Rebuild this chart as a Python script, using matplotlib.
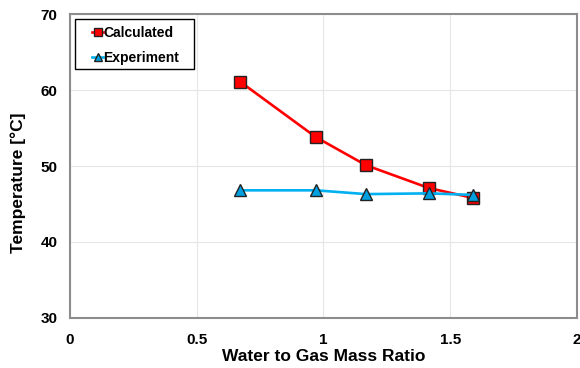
import matplotlib
matplotlib.use("Agg")
import matplotlib.pyplot as plt
from matplotlib.patches import Rectangle

plt.rcParams['font.family'] = ['Liberation Sans', 'DejaVu Sans']
plt.rcParams['font.weight'] = 'bold'

ratio_calc = [0.671, 0.970, 1.168, 1.416, 1.590]
temp_calc = [61.1, 53.8, 50.1, 47.1, 45.8]
ratio_exp = [0.671, 0.970, 1.168, 1.416, 1.590]
temp_exp = [46.8, 46.8, 46.3, 46.4, 46.2]

x_ticks = [0, 0.5, 1, 1.5, 2]
x_ticklabels = ['0', '0.5', '1', '1.5', '2']
y_ticks = [30, 40, 50, 60, 70]

fig = plt.figure(figsize=(5.8, 3.68), dpi=100)
ax = fig.add_axes([0.1207, 0.1359, 0.874, 0.826])

ax.plot(ratio_calc, temp_calc, color='#ff0000', lw=1.9, marker='s', ms=8,
        markerfacecolor='#ff0000', markeredgecolor='#222222', markeredgewidth=1,
        label='Calculated', zorder=3)
ax.plot(ratio_exp, temp_exp, color='#00b0f0', lw=1.9, marker='^', ms=8,
        markerfacecolor='#00a0e0', markeredgecolor='#222222', markeredgewidth=1,
        label='Experiment', zorder=4)

ax.set_xlim(0, 2)
ax.set_ylim(30, 70)
ax.set_xticks(x_ticks)
ax.set_xticklabels(x_ticklabels)
ax.set_yticks(y_ticks)
ax.tick_params(axis='x', length=0, labelsize=11, pad=11)
ax.tick_params(axis='y', length=0, labelsize=11, pad=9)
for lab in ax.get_xticklabels() + ax.get_yticklabels():
    lab.set_fontweight('bold')
ax.grid(True, color='#e6e6e6', lw=0.8)
ax.set_axisbelow(True)
for s in ax.spines.values():
    s.set_color('#8c8c8c')
    s.set_linewidth(1.5)

ax.set_xlabel('Water to Gas Mass Ratio', fontsize=12.5, fontweight='bold', labelpad=1)
ax.set_ylabel('Temperature [°C]', fontsize=12.5, fontweight='bold')
ax.yaxis.set_label_coords(-0.087, 0.444)

# legend box drawn separately so its padding can be set freely
ax.add_patch(Rectangle((0.0099, 0.819), 0.2347, 0.1646, transform=ax.transAxes,
                       facecolor='white', edgecolor='black', lw=1, zorder=5))
leg = ax.legend(loc='upper left', bbox_to_anchor=(0.044, 0.962), frameon=False,
                fontsize=10, handlelength=0.75, handletextpad=0.05, markerscale=0.7,
                borderpad=0, labelspacing=0.81, borderaxespad=0)
leg.set_zorder(6)
for t in leg.get_texts():
    t.set_fontweight('bold')

fig.savefig('out.png', dpi=100)
